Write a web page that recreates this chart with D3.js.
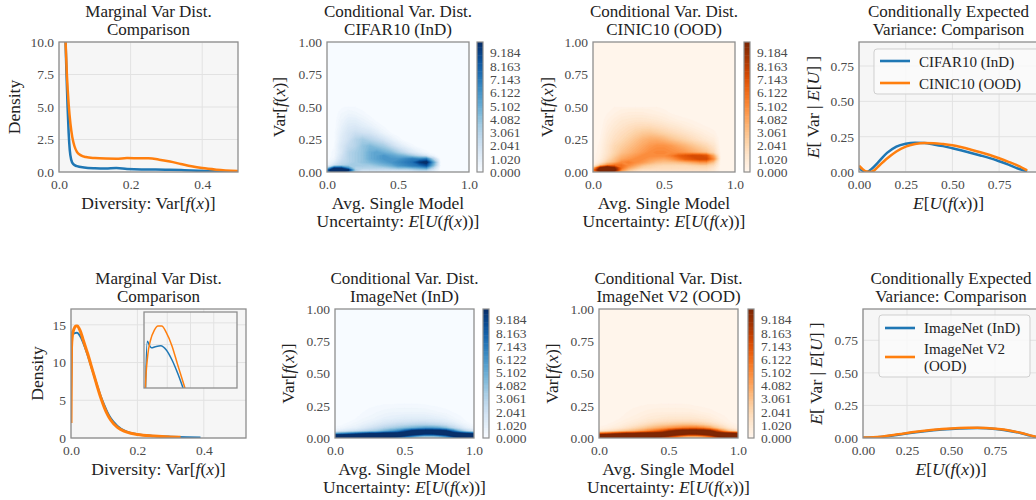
<!DOCTYPE html>
<html>
<head>
<meta charset="utf-8">
<script src="https://cdn.jsdelivr.net/npm/d3@7"></script>
<style>
  body { margin: 0; background: #fff; }
  svg { font-family: "Liberation Serif", "Times New Roman", serif; }
</style>
</head>
<body>
<svg id="chart" width="1036" height="500"></svg>
<script>
// ---- data ----

// marginal variance densities (x = Var[f(x)], y = density)
const cifarVar = [[0.018,10.3],[0.021,7.5],[0.024,5.0],[0.027,3.0],[0.03,1.7],[0.034,0.95],[0.04,0.6],[0.05,0.45],[0.07,0.35],[0.1,0.29],[0.13,0.27],[0.16,0.3],[0.19,0.23],[0.23,0.2],[0.27,0.2],[0.31,0.18],[0.35,0.14],[0.39,0.09],[0.43,0.05],[0.47,0.02],[0.5,0.01]];
const cinicVar = [[0.018,10.3],[0.022,7.5],[0.027,5.2],[0.032,3.7],[0.037,2.7],[0.043,2.0],[0.05,1.55],[0.06,1.3],[0.075,1.15],[0.1,1.07],[0.13,1.03],[0.16,1.02],[0.19,1.07],[0.22,1.06],[0.25,1.05],[0.28,0.95],[0.31,0.8],[0.34,0.62],[0.37,0.44],[0.4,0.3],[0.44,0.18],[0.5,0.07]];
const imagenetVar = [[0,6],[0.0015,11.5],[0.0036,14.15],[0.006,13.95],[0.008,13.85],[0.012,13.9],[0.018,13.95],[0.024,13.75],[0.03,13.3],[0.036,12.7],[0.042,12.0],[0.05,11.0],[0.06,9.6],[0.07,8.2],[0.08,6.8],[0.09,5.5],[0.1,4.4],[0.11,3.4],[0.12,2.6],[0.14,1.6],[0.16,1.0],[0.18,0.68],[0.2,0.5],[0.25,0.28],[0.3,0.17],[0.35,0.1],[0.39,0.07]];
const imagenetV2Var = [[0,2],[0.0015,12],[0.004,13.5],[0.007,14.2],[0.011,14.65],[0.015,14.85],[0.019,14.85],[0.024,14.55],[0.03,13.95],[0.036,13.1],[0.044,12.0],[0.05,11.2],[0.06,9.7],[0.07,8.2],[0.08,6.7],[0.09,5.3],[0.1,4.1],[0.11,3.1],[0.12,2.35],[0.14,1.4],[0.16,0.9],[0.18,0.62],[0.2,0.45],[0.25,0.25],[0.3,0.13],[0.33,0.09]];

// conditionally expected variance E[Var | E[U]]
const cifarCondVar = [[0,0.03],[0.02,0.01],[0.04,0.0],[0.07,0.025],[0.1,0.065],[0.15,0.135],[0.2,0.18],[0.25,0.2],[0.3,0.207],[0.35,0.205],[0.4,0.195],[0.45,0.183],[0.5,0.168],[0.55,0.152],[0.6,0.135],[0.65,0.117],[0.7,0.098],[0.75,0.076],[0.8,0.052],[0.85,0.025],[0.9,0.004]];
const cinicCondVar = [[0,0.045],[0.02,0.02],[0.04,0.003],[0.06,0.0],[0.08,0.01],[0.1,0.035],[0.15,0.095],[0.2,0.145],[0.25,0.18],[0.3,0.198],[0.35,0.205],[0.4,0.204],[0.45,0.198],[0.5,0.189],[0.55,0.175],[0.6,0.158],[0.65,0.14],[0.7,0.12],[0.75,0.097],[0.8,0.072],[0.85,0.045],[0.9,0.012]];
const imagenetCondVar = [[0,0.002],[0.1,0.008],[0.2,0.025],[0.3,0.045],[0.4,0.06],[0.5,0.07],[0.6,0.075],[0.65,0.076],[0.7,0.074],[0.8,0.062],[0.9,0.036],[0.95,0.018],[1.0,0.002]];
const imagenetV2CondVar = [[0,0.003],[0.1,0.01],[0.2,0.028],[0.3,0.048],[0.4,0.063],[0.5,0.073],[0.6,0.078],[0.65,0.079],[0.7,0.077],[0.8,0.065],[0.9,0.038],[0.95,0.02],[1.0,0.003]];

// density grids for the conditional maps: columns = heatXCols, rows = heatYRows
const heatXCols = [0,0.05,0.1,0.15,0.2,0.25,0.3,0.35,0.4,0.45,0.5,0.55,0.6,0.65,0.7,0.75,0.8,0.85,0.9,0.95,1.0];
const heatYRows = [0,0.015,0.03,0.05,0.075,0.1,0.125,0.15,0.2,0.25,0.3,0.35,0.4,0.45,0.5];

const cifarGrid = [
  [6,12,11,7,2.5,1.5,1.5,1.5,1.5,1.5,1.5,1.5,1.5,2,2,1,0,0,0,0,0],
  [7,14,13,10,3.5,2,2,2,2,2,2,2,2.5,3,3,1.5,0,0,0,0,0],
  [3,9,9,6,3,3,3,3,3,3.5,4,4,4.5,5,5.5,2.5,0,0,0,0,0],
  [0.5,2,3,3.5,3.5,3.5,3.5,4,4.5,5,6,6.5,7,7.5,8.5,4.5,0,0,0,0,0],
  [0.2,1,2.5,3,3.5,4,4.5,5,5.5,6,6.5,7,7.5,9.5,10.5,5.5,0,0,0,0,0],
  [0,0.5,2,3,3.5,4,5,5.5,6,6,6,6.5,7,6.5,7,3,0,0,0,0,0],
  [0,0.3,1.8,3,3.5,4,5,5.5,6,5.5,5,4.5,3.5,2.5,1.5,0.5,0,0,0,0,0],
  [0,0.3,1.5,3,3.5,4,5,5.5,5,4.5,3.5,2.5,1.5,0.8,0.3,0,0,0,0,0,0],
  [0,0.2,1.5,2.5,3,4,4.5,4,3.5,2.5,1.5,0.8,0.3,0,0,0,0,0,0,0,0],
  [0,0.1,1.2,2,3,3.5,3,2.5,1.8,1,0.4,0,0,0,0,0,0,0,0,0,0],
  [0,0.1,1,1.8,2.2,2,1.8,1.2,0.6,0.2,0,0,0,0,0,0,0,0,0,0,0],
  [0,0,0.8,1.4,1.5,1.2,0.9,0.5,0.2,0,0,0,0,0,0,0,0,0,0,0,0],
  [0,0,0.6,1,1,0.7,0.4,0.1,0,0,0,0,0,0,0,0,0,0,0,0,0],
  [0,0,0.4,0.6,0.5,0.3,0.1,0,0,0,0,0,0,0,0,0,0,0,0,0,0],
  [0,0,0.15,0.25,0.2,0.1,0,0,0,0,0,0,0,0,0,0,0,0,0,0,0]
];
const cinicGrid = [
  [3,8,10,7,3,2,1.5,1.2,1,1,1,1,1,1,1,1,1,0.8,0,0,0],
  [5,12,14,11,5,3,2,1.5,1.5,1.5,1.5,1.5,1.5,1.5,1.5,1.5,1.5,1,0,0,0],
  [3,10,13,10,6,4,3,2.2,2,1.8,1.8,1.8,1.8,1.8,1.8,1.8,1.8,1.2,0,0,0],
  [0.5,3,5,6,6,5,4,3,2.5,2.2,2,2,2,2,2.2,2.4,2.4,1.8,0,0,0],
  [0.1,1,2.5,3.5,5,5.5,5,4.5,3.8,3.2,3,3,3.2,3.5,4,4.5,4.5,3,0,0,0],
  [0,0.6,1.8,3,4,4.5,5,5,4.5,4.2,4,4.5,5.5,6.5,7,7.5,7.5,5,0,0,0],
  [0,0.5,1.5,2.5,3.5,4,4.5,5,5,5,5,5.5,6.5,7,7.5,7.5,7,4,0,0,0],
  [0,0.4,1.3,2.2,3,3.5,4,4.5,5,5.2,5.2,5,4.8,4.5,4,3.5,3,2,0,0,0],
  [0,0.3,1.2,2,2.5,3,3.5,4,4.5,4.8,4.8,4.5,4,3.5,3,2.5,2,1.3,0,0,0],
  [0,0.2,1,1.6,2,2.5,3,3.5,3.8,3.8,3.5,3,2.6,2.2,1.8,1.4,1,0.7,0,0,0],
  [0,0.1,0.8,1.3,1.7,2,2.4,2.7,2.8,2.6,2.3,2,1.7,1.4,1.1,0.8,0.5,0.3,0,0,0],
  [0,0,0.6,1,1.3,1.6,1.8,1.9,1.9,1.7,1.5,1.2,1,0.7,0.5,0.3,0.2,0.1,0,0,0],
  [0,0,0.4,0.7,1,1.1,1.2,1.2,1.1,1,0.8,0.6,0.4,0.3,0.2,0.1,0,0,0,0,0],
  [0,0,0.2,0.4,0.6,0.7,0.7,0.7,0.6,0.5,0.4,0.2,0.1,0,0,0,0,0,0,0,0],
  [0,0,0.1,0.2,0.3,0.3,0.3,0.3,0.3,0.2,0.1,0,0,0,0,0,0,0,0,0,0]
];
const imagenetGrid = [
  [10,10,10,10,10,10,10,9,8,6,4,3,2.5,2.5,2.5,3,4,6,8,9,9],
  [14,14,14,14,14,14,14,13,12,11,9,7,5,4,4,5,7,10,12,13,13],
  [6,7,8,9,10,11,11,12,12,12,12,11,10,9,9,10,11,12,12,11,10],
  [1,1.5,2,2.5,3,3.5,4,5,6,7,9,11,12,12,12,12,11,8,5,3,2],
  [0.3,0.5,0.8,1,1.5,2,2.5,3,3.5,4,4.5,5,5.5,6,6,5.5,4.5,3,2,1,0.5],
  [0.1,0.2,0.4,0.6,0.9,1.2,1.6,2,2.3,2.6,2.8,3,3.2,3.2,3,2.8,2.3,1.7,1,0.5,0.2],
  [0,0.1,0.2,0.4,0.6,0.8,1,1.3,1.5,1.7,1.8,1.9,1.9,1.9,1.8,1.6,1.3,0.9,0.5,0.2,0.1],
  [0,0,0.1,0.2,0.4,0.5,0.7,0.9,1,1.1,1.2,1.2,1.2,1.2,1.1,1,0.8,0.5,0.3,0.1,0],
  [0,0,0,0.1,0.2,0.3,0.4,0.5,0.6,0.6,0.6,0.6,0.6,0.6,0.5,0.4,0.3,0.2,0.1,0,0],
  [0,0,0,0,0.1,0.15,0.2,0.25,0.25,0.3,0.3,0.3,0.3,0.25,0.2,0.15,0.1,0.05,0,0,0]
];
const imagenetV2Grid = [
  [11,11,11,11,11,11,10,9,8,6,4,3,2.5,2.5,2.5,3,4,6,8,10,10],
  [15,15,15,15,15,15,14,13,12,11,9,7,5,4,4,5,7,10,12,14,14],
  [7,8,9,10,11,11,12,12,12,12,12,11,10,9,9,10,11,12,12,12,11],
  [1.2,1.6,2.2,2.8,3.3,3.8,4.5,5.5,6.5,7.5,9.5,11,12,12,12,12,11,8,5,3,2],
  [0.3,0.5,0.8,1.1,1.6,2.1,2.6,3.2,3.7,4.2,4.7,5.2,5.7,6,6,5.5,4.5,3,2,1,0.5],
  [0.1,0.2,0.4,0.6,0.9,1.2,1.6,2,2.4,2.7,2.9,3.1,3.3,3.3,3.1,2.8,2.3,1.7,1,0.5,0.2],
  [0,0.1,0.2,0.4,0.6,0.8,1,1.3,1.5,1.7,1.8,1.9,1.9,1.9,1.8,1.6,1.3,0.9,0.5,0.2,0.1],
  [0,0,0.1,0.2,0.4,0.5,0.7,0.9,1,1.1,1.2,1.2,1.2,1.2,1.1,1,0.8,0.5,0.3,0.1,0],
  [0,0,0,0.1,0.2,0.3,0.4,0.5,0.6,0.6,0.6,0.6,0.6,0.6,0.5,0.4,0.3,0.2,0.1,0,0],
  [0,0,0,0,0.1,0.15,0.2,0.25,0.25,0.3,0.3,0.3,0.3,0.25,0.2,0.15,0.1,0.05,0,0,0]
];

// contour levels of the maps (matplotlib linspace(0, 10, 50))
const levelMax = 10;
const levelCount = 50;

// ---- styling ----
const blue = '#1f77b4';
const orange = '#ff7f0e';
const faceColor = '#f6f6f6';
const gridColor = '#e2e2e2';
const spineColor = '#8e8e8e';
const tickColor = '#4a4a4a';
const textColor = '#222';

const svg = d3.select('#chart');
const levels = d3.range(levelCount).map(i => i * levelMax / (levelCount - 1));
let clipId = 0;

function mathText(sel, parts) {
    parts.forEach(p => {
        sel.append('tspan')
            .attr('font-style', p[1] ? 'italic' : null)
            .text(p[0]);
    });
}

const divLabel = [['Diversity: Var['], ['f', 1], ['('], ['x', 1], [')]']];
const varLabel = [['Var['], ['f', 1], ['('], ['x', 1], [')]']];
const uncLabel = [['Uncertainty: '], ['E', 1], ['['], ['U', 1], ['('], ['f', 1], ['('], ['x', 1], ['))]']];
const euLabel = [['E', 1], ['['], ['U', 1], ['('], ['f', 1], ['('], ['x', 1], ['))]']];
const evLabel = [['E', 1], ['[ Var | '], ['E', 1], ['['], ['U', 1], ['] ]']];

function title(box, lines) {
    const cx = (box.x0 + box.x1) / 2;
    lines.forEach((t, i) => {
        svg.append('text')
            .attr('x', cx)
            .attr('y', box.y0 - 7.5 - (lines.length - 1 - i) * 18)
            .attr('text-anchor', 'middle')
            .attr('font-size', 17)
            .attr('fill', textColor)
            .text(t);
    });
}

function xLabel(box, lines, cx) {
    cx = cx || (box.x0 + box.x1) / 2;
    lines.forEach((parts, i) => {
        const t = svg.append('text')
            .attr('x', cx)
            .attr('y', box.y1 + 37 + i * 18)
            .attr('text-anchor', 'middle')
            .attr('font-size', 17.5)
            .attr('fill', textColor);
        mathText(t, parts);
    });
}

function yLabel(box, cx, parts) {
    const t = svg.append('text')
        .attr('transform', `translate(${cx},${(box.y0 + box.y1) / 2}) rotate(-90)`)
        .attr('dy', '0.35em')
        .attr('text-anchor', 'middle')
        .attr('font-size', 17.5)
        .attr('fill', textColor);
    mathText(t, parts);
}

function styleAxis(g) {
    g.select('.domain').remove();
    g.selectAll('text')
        .attr('font-size', 13.5)
        .attr('font-family', '"Liberation Serif", serif')
        .attr('fill', tickColor);
}

function axes(box, x, y, xTicks, yTicks, xFmt, yFmt) {
    svg.append('g')
        .attr('transform', `translate(0,${box.y1})`)
        .call(d3.axisBottom(x).tickValues(xTicks).tickFormat(d3.format(xFmt)).tickSize(0).tickPadding(7))
        .call(styleAxis);
    svg.append('g')
        .attr('transform', `translate(${box.x0},0)`)
        .call(d3.axisLeft(y).tickValues(yTicks).tickFormat(d3.format(yFmt)).tickSize(0).tickPadding(5))
        .call(styleAxis);
}

function makeClip(box) {
    const id = 'clip' + (clipId++);
    svg.append('clipPath').attr('id', id)
        .append('rect')
        .attr('x', box.x0).attr('y', box.y0)
        .attr('width', box.x1 - box.x0).attr('height', box.y1 - box.y0);
    return `url(#${id})`;
}

// line panel: face, grid, curves, spine
function linePanel(box, xDom, yDom, xTicks, yTicks, xFmt, yFmt, series, showTicks = true) {
    const x = d3.scaleLinear().domain(xDom).range([box.x0, box.x1]);
    const y = d3.scaleLinear().domain(yDom).range([box.y1, box.y0]);
    const g = svg.append('g');

    g.append('rect')
        .attr('x', box.x0).attr('y', box.y0)
        .attr('width', box.x1 - box.x0).attr('height', box.y1 - box.y0)
        .attr('fill', faceColor);

    g.selectAll('line.vgrid')
        .data(xTicks)
        .join('line')
        .attr('x1', d => x(d)).attr('x2', d => x(d))
        .attr('y1', box.y0).attr('y2', box.y1)
        .attr('stroke', gridColor).attr('stroke-width', 1);

    g.selectAll('line.hgrid')
        .data(yTicks)
        .join('line')
        .attr('y1', d => y(d)).attr('y2', d => y(d))
        .attr('x1', box.x0).attr('x2', box.x1)
        .attr('stroke', gridColor).attr('stroke-width', 1);

    const line = d3.line()
        .x(d => x(d[0]))
        .y(d => y(d[1]))
        .curve(d3.curveMonotoneX);

    const clip = makeClip(box);
    series.forEach(s => {
        g.append('path')
            .datum(s.data)
            .attr('clip-path', clip)
            .attr('fill', 'none')
            .attr('stroke', s.color)
            .attr('stroke-width', s.width)
            .attr('stroke-linejoin', 'round')
            .attr('d', line);
    });

    g.append('rect')
        .attr('x', box.x0).attr('y', box.y0)
        .attr('width', box.x1 - box.x0).attr('height', box.y1 - box.y0)
        .attr('fill', 'none')
        .attr('stroke', spineColor).attr('stroke-width', 1.3);

    if (showTicks) axes(box, x, y, xTicks, yTicks, xFmt, yFmt);
    return { x, y };
}

// filled contour map + colour bar
function heatPanel(box, cbar, grid, cmap) {
    const x = d3.scaleLinear().domain([0, 1]).range([box.x0, box.x1]);
    const y = d3.scaleLinear().domain([0, 1]).range([box.y1, box.y0]);
    const nx = heatXCols.length, ny = heatYRows.length;
    const values = [];
    for (let j = 0; j < ny; j++) {
        for (let i = 0; i < nx; i++) {
            values.push((grid[j] && grid[j][i]) || 0);
        }
    }
    const layers = levelCount - 2;
    const colorAt = k => cmap(Math.min(k, layers) / layers);

    const contours = d3.contours()
        .size([nx, ny])
        .thresholds(levels.slice(1))(values);

    const xi = d3.scaleLinear().domain(d3.range(nx)).range(heatXCols).clamp(true);
    const yi = d3.scaleLinear().domain(d3.range(ny)).range(heatYRows).clamp(true);
    const path = d3.geoPath(d3.geoTransform({
        point(px, py) { this.stream.point(x(xi(px - 0.5)), y(yi(py - 0.5))); }
    }));

    const g = svg.append('g').attr('clip-path', makeClip(box));
    g.append('rect')
        .attr('x', box.x0).attr('y', box.y0)
        .attr('width', box.x1 - box.x0).attr('height', box.y1 - box.y0)
        .attr('fill', colorAt(0));
    g.selectAll('path')
        .data(contours)
        .join('path')
        .attr('d', path)
        .attr('fill', (d, i) => colorAt(i + 1))
        .attr('stroke', (d, i) => colorAt(i + 1))
        .attr('stroke-width', 0.3);

    svg.append('rect')
        .attr('x', box.x0).attr('y', box.y0)
        .attr('width', box.x1 - box.x0).attr('height', box.y1 - box.y0)
        .attr('fill', 'none')
        .attr('stroke', spineColor).attr('stroke-width', 1.3);

    axes(box, x, y, [0, 0.5, 1], [0, 0.25, 0.5, 0.75, 1], '.1f', '.2f');

    // colour bar
    const cy = d3.scaleLinear().domain([0, levelMax]).range([box.y1, box.y0]);
    svg.append('g')
        .selectAll('rect')
        .data(d3.range(levelCount - 1))
        .join('rect')
        .attr('x', cbar.x0)
        .attr('width', cbar.x1 - cbar.x0)
        .attr('y', k => cy(levels[k + 1]))
        .attr('height', k => cy(levels[k]) - cy(levels[k + 1]) + 0.5)
        .attr('fill', k => colorAt(k));
    svg.append('rect')
        .attr('x', cbar.x0).attr('y', box.y0)
        .attr('width', cbar.x1 - cbar.x0).attr('height', box.y1 - box.y0)
        .attr('fill', 'none')
        .attr('stroke', spineColor).attr('stroke-width', 1.2);
    svg.append('g')
        .attr('transform', `translate(${cbar.x1},0)`)
        .call(d3.axisRight(cy)
            .tickValues(levels.filter((d, i) => i % 5 === 0))
            .tickFormat(d3.format('.3f'))
            .tickSize(0).tickPadding(7))
        .call(styleAxis);
}

function legend(box, items) {
    svg.append('rect')
        .attr('x', box.x).attr('y', box.y)
        .attr('width', box.w).attr('height', box.h)
        .attr('rx', 3)
        .attr('fill', '#fafafa').attr('fill-opacity', 0.85)
        .attr('stroke', '#cfcfcf').attr('stroke-width', 1);
    items.forEach(it => {
        svg.append('line')
            .attr('x1', box.x + 6).attr('x2', box.x + 36)
            .attr('y1', it.y).attr('y2', it.y)
            .attr('stroke', it.color).attr('stroke-width', 2.6);
        it.lines.forEach((t, i) => {
            svg.append('text')
                .attr('x', box.x + 45)
                .attr('y', it.textY + i * 16.5)
                .attr('font-size', 15)
                .attr('fill', textColor)
                .text(t);
        });
    });
}

// ---- layout ----
const boxTL = { x0: 59, x1: 238, y0: 42, y1: 172 };
const boxT2 = { x0: 327, x1: 469, y0: 42, y1: 172 };
const cbT2 = { x0: 477, x1: 483 };
const boxT3 = { x0: 593, x1: 735, y0: 42, y1: 172 };
const cbT3 = { x0: 744, x1: 750 };
const boxT4 = { x0: 859, x1: 1038, y0: 42, y1: 172 };

const boxBL = { x0: 71, x1: 246, y0: 309, y1: 438 };
const boxInset = { x0: 144, x1: 237, y0: 312, y1: 388 };
const boxB2 = { x0: 335, x1: 474, y0: 309, y1: 438 };
const cbB2 = { x0: 483, x1: 489 };
const boxB3 = { x0: 599, x1: 738, y0: 309, y1: 438 };
const cbB3 = { x0: 748, x1: 754 };
const boxB4 = { x0: 863, x1: 1039, y0: 309, y1: 438 };

// ---- top row: CIFAR10 / CINIC10 ----
linePanel(boxTL, [0, 0.5], [0, 10], [0, 0.2, 0.4], [0, 2.5, 5, 7.5, 10], '.1f', '.1f', [
    { data: cifarVar, color: blue, width: 2.5 },
    { data: cinicVar, color: orange, width: 2.5 }
]);
title(boxTL, ['Marginal Var Dist.', 'Comparison']);
xLabel(boxTL, [divLabel]);
yLabel(boxTL, 13.5, [['Density']]);

heatPanel(boxT2, cbT2, cifarGrid, d3.interpolateBlues);
title(boxT2, ['Conditional Var. Dist.', 'CIFAR10 (InD)']);
xLabel(boxT2, [[['Avg. Single Model']], uncLabel]);
yLabel(boxT2, 278.5, varLabel);

heatPanel(boxT3, cbT3, cinicGrid, d3.interpolateOranges);
title(boxT3, ['Conditional Var. Dist.', 'CINIC10 (OOD)']);
xLabel(boxT3, [[['Avg. Single Model']], uncLabel]);
yLabel(boxT3, 547, varLabel);

linePanel(boxT4, [0, 0.958], [0, 0.92], [0, 0.25, 0.5, 0.75], [0, 0.25, 0.5, 0.75], '.2f', '.2f', [
    { data: cifarCondVar, color: blue, width: 2.5 },
    { data: cinicCondVar, color: orange, width: 2.5 }
]);
title(boxT4, ['Conditionally Expected', 'Variance: Comparison']);
xLabel(boxT4, [euLabel]);
yLabel(boxT4, 813, evLabel);
legend({ x: 874, y: 49, w: 190, h: 45 }, [
    { color: blue, y: 61, textY: 66.5, lines: ['CIFAR10 (InD)'] },
    { color: orange, y: 83, textY: 88.5, lines: ['CINIC10 (OOD)'] }
]);

// ---- bottom row: ImageNet / ImageNet V2 ----
linePanel(boxBL, [0, 0.527], [0, 17.1], [0, 0.2, 0.4], [0, 5, 10, 15], '.1f', 'd', [
    { data: imagenetVar, color: blue, width: 2 },
    { data: imagenetV2Var, color: orange, width: 3 }
]);
linePanel(boxInset, [0, 0.1], [12, 15.5], [0.025, 0.05, 0.075], [13, 14, 15], '.2f', 'd', [
    { data: imagenetVar, color: blue, width: 1.5 },
    { data: imagenetV2Var, color: orange, width: 1.5 }
], false);
title(boxBL, ['Marginal Var Dist.', 'Comparison']);
xLabel(boxBL, [divLabel]);
yLabel(boxBL, 36.5, [['Density']]);

heatPanel(boxB2, cbB2, imagenetGrid, d3.interpolateBlues);
title(boxB2, ['Conditional Var. Dist.', 'ImageNet (InD)']);
xLabel(boxB2, [[['Avg. Single Model']], uncLabel]);
yLabel(boxB2, 288, varLabel);

heatPanel(boxB3, cbB3, imagenetV2Grid, d3.interpolateOranges);
title(boxB3, ['Conditional Var. Dist.', 'ImageNet V2 (OOD)']);
xLabel(boxB3, [[['Avg. Single Model']], uncLabel]);
yLabel(boxB3, 552, varLabel);

linePanel(boxB4, [0, 1.0], [0, 0.99], [0, 0.25, 0.5, 0.75], [0, 0.25, 0.5, 0.75], '.2f', '.2f', [
    { data: imagenetCondVar, color: blue, width: 2.5 },
    { data: imagenetV2CondVar, color: orange, width: 2.5 }
]);
title(boxB4, ['Conditionally Expected', 'Variance: Comparison']);
xLabel(boxB4, [euLabel]);
yLabel(boxB4, 816, evLabel);
legend({ x: 879, y: 315, w: 151, h: 62 }, [
    { color: blue, y: 328, textY: 333, lines: ['ImageNet (InD)'] },
    { color: orange, y: 357, textY: 354, lines: ['ImageNet V2', '(OOD)'] }
]);
</script>
</body>
</html>
